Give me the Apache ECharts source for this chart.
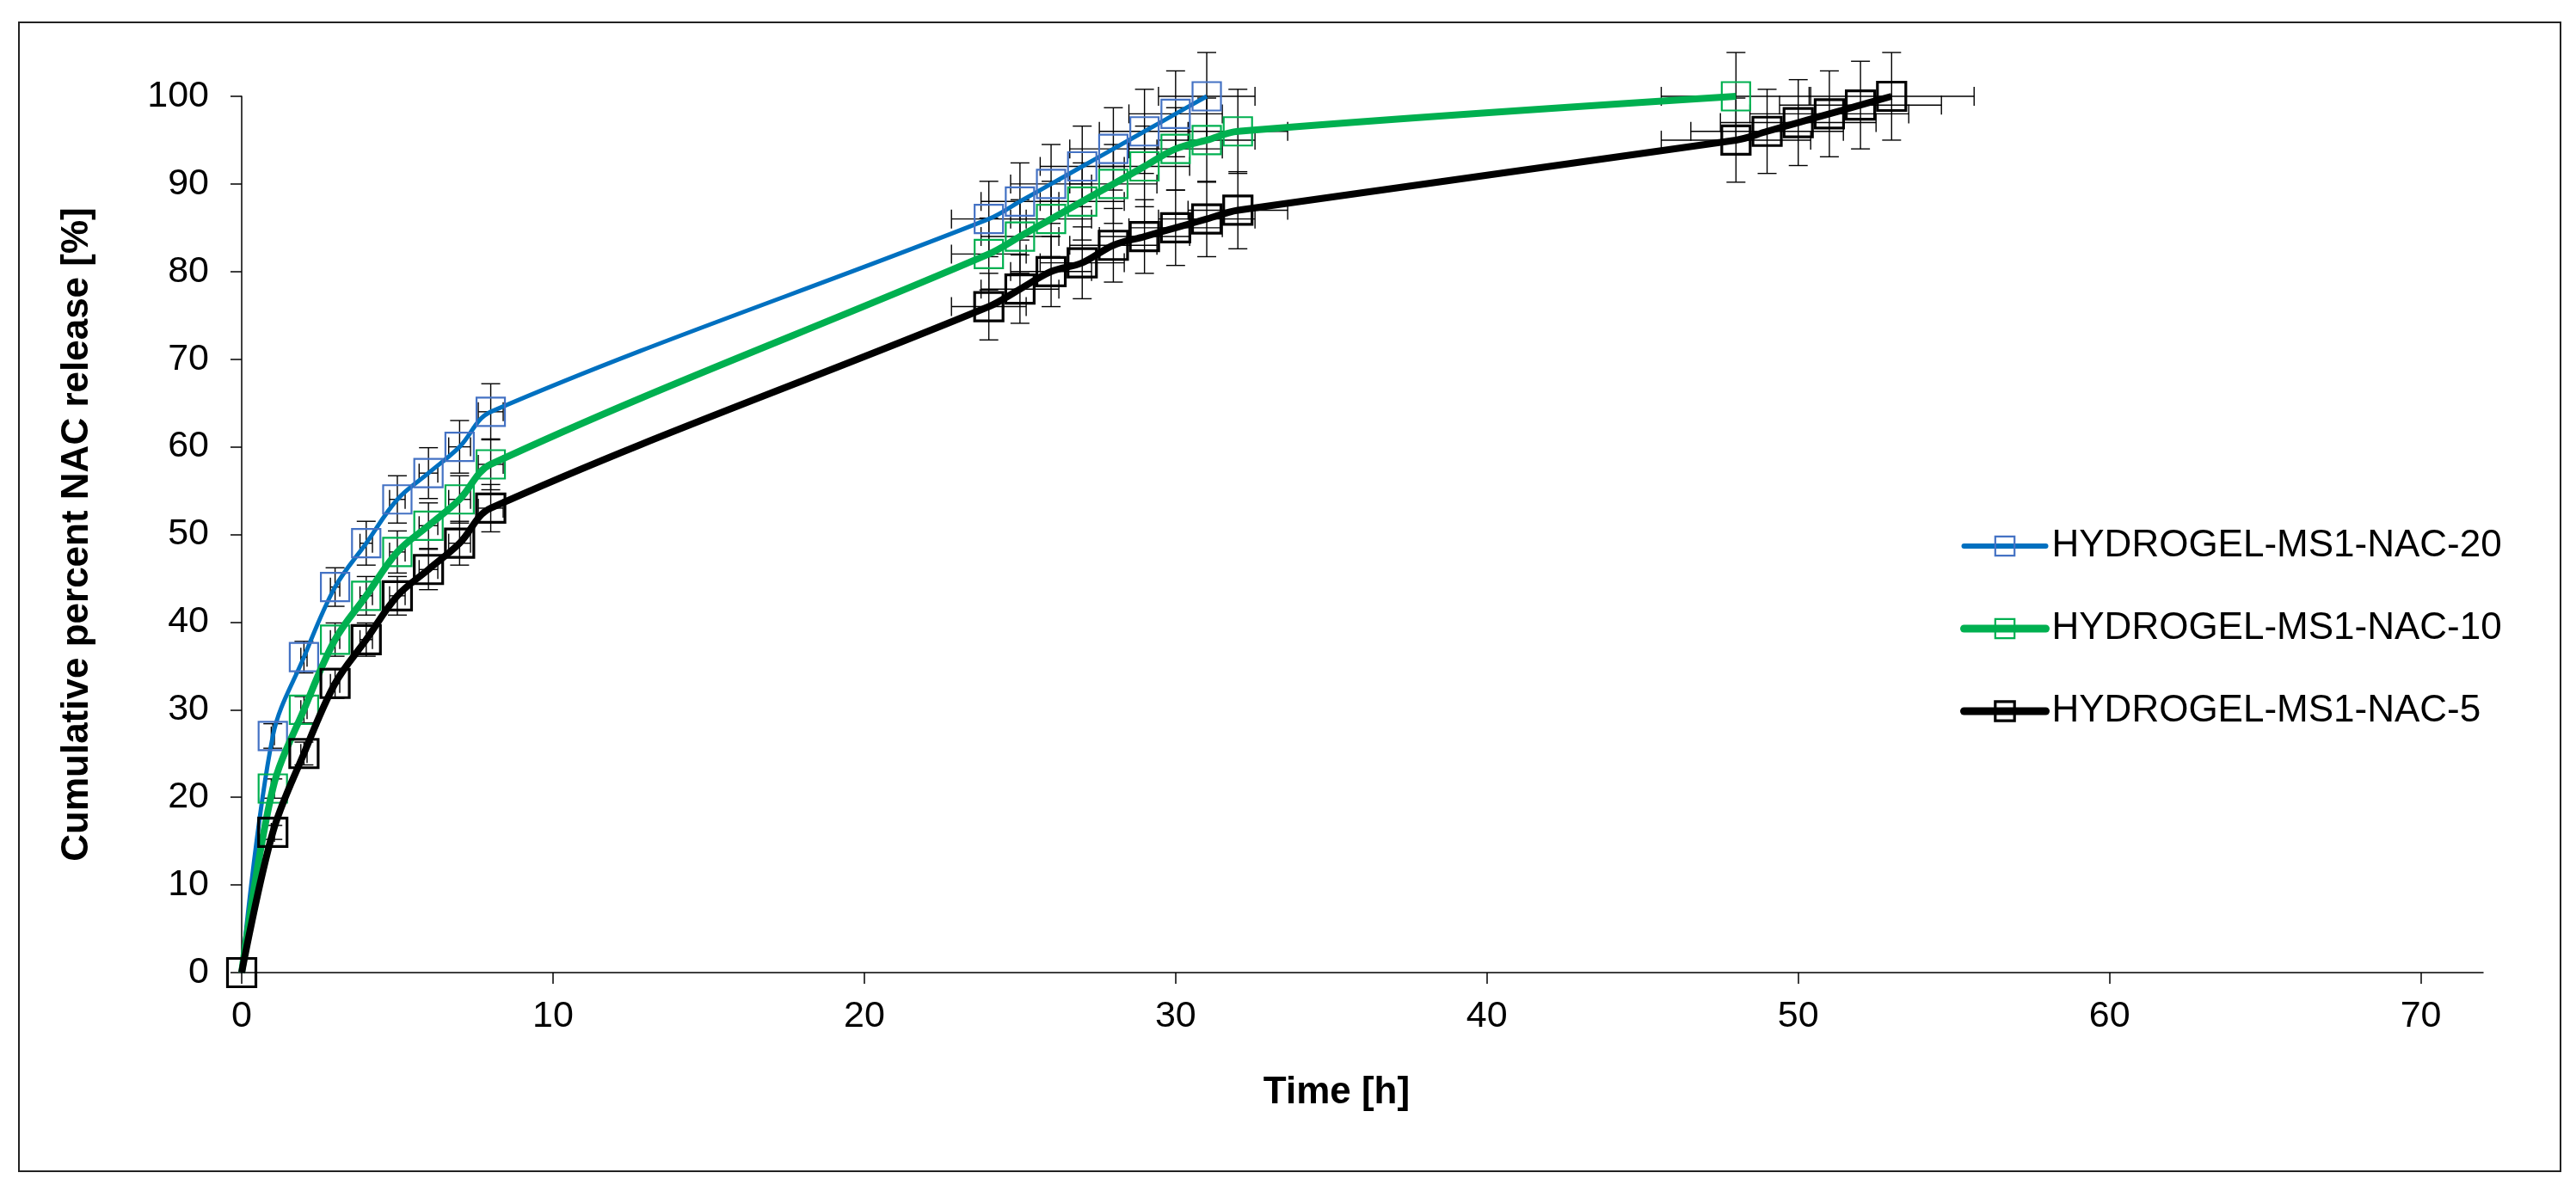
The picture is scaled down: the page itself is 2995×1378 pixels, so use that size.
<!DOCTYPE html>
<html>
<head>
<meta charset="utf-8">
<script src="https://cdn.jsdelivr.net/npm/echarts@6/dist/echarts.min.js"></script>
<style>
html,body{margin:0;padding:0;background:#fff;}
#c{width:2995px;height:1378px;}
</style>
</head>
<body>
<div id="c"></div>
<script>
// ---- data ----
const seriesNames = ['HYDROGEL-MS1-NAC-20', 'HYDROGEL-MS1-NAC-10', 'HYDROGEL-MS1-NAC-5'];

const time20 = [0, 1, 2, 3, 4, 5, 6, 7, 8, 24, 25, 26, 27, 28, 29, 30, 31];
const rel20  = [0, 27, 36, 44, 49, 54, 57, 60, 64, 86, 88, 90, 92, 94, 96, 98, 100];
const err20  = [0, 1.4, 1.8, 2.2, 2.5, 2.7, 2.9, 3.0, 3.2, 4.3, 4.4, 4.5, 4.6, 4.7, 4.8, 4.9, 5.0];
const terr20 = [0, 0.05, 0.1, 0.15, 0.2, 0.25, 0.3, 0.35, 0.4, 1.2, 1.25, 1.3, 1.35, 1.4, 1.45, 1.5, 1.55];

const time10 = [0, 1, 2, 3, 4, 5, 6, 7, 8, 24, 25, 26, 27, 28, 29, 30, 31, 32, 48];
const rel10  = [0, 21, 30, 38, 43, 48, 51, 54, 58, 82, 84, 86, 88, 90, 92, 94, 95, 96, 100];
const err10  = [0, 1.1, 1.5, 1.9, 2.2, 2.4, 2.6, 2.7, 2.9, 4.1, 4.2, 4.3, 4.4, 4.5, 4.6, 4.7, 4.8, 4.8, 5.0];
const terr10 = [0, 0.05, 0.1, 0.15, 0.2, 0.25, 0.3, 0.35, 0.4, 1.2, 1.25, 1.3, 1.35, 1.4, 1.45, 1.5, 1.55, 1.6, 2.4];

const time5 = [0, 1, 2, 3, 4, 5, 6, 7, 8, 24, 25, 26, 27, 28, 29, 30, 31, 32, 48, 49, 50, 51, 52, 53];
const rel5  = [0, 16, 25, 33, 38, 43, 46, 49, 53, 76, 78, 80, 81, 83, 84, 85, 86, 87, 95, 96, 97, 98, 99, 100];
const err5  = [0, 0.8, 1.3, 1.7, 1.9, 2.2, 2.3, 2.5, 2.7, 3.8, 3.9, 4.0, 4.1, 4.2, 4.2, 4.3, 4.3, 4.4, 4.8, 4.8, 4.9, 4.9, 5.0, 5.0];
const terr5 = [0, 0.05, 0.1, 0.15, 0.2, 0.25, 0.3, 0.35, 0.4, 1.2, 1.25, 1.3, 1.35, 1.4, 1.45, 1.5, 1.55, 1.6, 2.4, 2.45, 2.5, 2.55, 2.6, 2.65];

const xTicks = [0, 10, 20, 30, 40, 50, 60, 70];

// ---- build ----
const FONT = "'Liberation Sans', Arial, sans-serif";
const lineCols = ['#0070C0', '#00B050', '#000000'];
const markCols = ['#4472C4', '#00B050', '#000000'];
const lineW = [5, 8, 8];
const markW = [2.2, 2.2, 3.2];

const sets = [
  [time20, rel20, err20, terr20],
  [time10, rel10, err10, terr10],
  [time5, rel5, err5, terr5]
];

function pairs(t, v) { return t.map((x, i) => [x, v[i]]); }
function errData(t, v, e, te) { return t.map((x, i) => [x, v[i], te[i], e[i]]); }

const CAP = 11;
function errRender(params, api) {
  const x = api.value(0), y = api.value(1), ex = api.value(2), ey = api.value(3);
  const children = [];
  const st = { stroke: '#000', lineWidth: 1.4 };
  if (ey > 0) {
    const top = api.coord([x, y + ey]), bot = api.coord([x, y - ey]);
    children.push({ type: 'line', shape: { x1: top[0], y1: top[1], x2: bot[0], y2: bot[1] }, style: st });
    children.push({ type: 'line', shape: { x1: top[0] - CAP, y1: top[1], x2: top[0] + CAP, y2: top[1] }, style: st });
    children.push({ type: 'line', shape: { x1: bot[0] - CAP, y1: bot[1], x2: bot[0] + CAP, y2: bot[1] }, style: st });
  }
  if (ex > 0) {
    const l = api.coord([x - ex, y]), r = api.coord([x + ex, y]);
    children.push({ type: 'line', shape: { x1: l[0], y1: l[1], x2: r[0], y2: r[1] }, style: st });
    children.push({ type: 'line', shape: { x1: l[0], y1: l[1] - CAP, x2: l[0], y2: l[1] + CAP }, style: st });
    children.push({ type: 'line', shape: { x1: r[0], y1: r[1] - CAP, x2: r[0], y2: r[1] + CAP }, style: st });
  }
  return { type: 'group', children: children };
}

const series = [];
sets.forEach((s, i) => {
  series.push({
    type: 'custom',
    name: seriesNames[i] + ' err',
    renderItem: errRender,
    data: errData(s[0], s[1], s[2], s[3]),
    z: 1,
    silent: true,
    clip: false
  });
});
sets.forEach((s, i) => {
  series.push({
    type: 'line',
    name: seriesNames[i],
    data: pairs(s[0], s[1]),
    smooth: 0.35,
    symbol: 'rect',
    symbolSize: 33,
    showAllSymbol: true,
    lineStyle: { color: lineCols[i], width: lineW[i] },
    itemStyle: { color: 'rgba(0,0,0,0)', borderColor: markCols[i], borderWidth: markW[i] },
    z: 3 + i
  });
});

const legendData = seriesNames.map((n, i) => ({
  name: n,
  lineStyle: { color: lineCols[i], width: lineW[i] + 1, cap: 'round' },
  itemStyle: { color: 'rgba(0,0,0,0)', borderColor: markCols[i], borderWidth: markW[i] }
}));

const chart = echarts.init(document.getElementById('c'), null, { renderer: 'canvas' });
chart.setOption({
  animation: false,
  backgroundColor: '#fff',
  grid: { left: 281, right: 108, top: 112, bottom: 247 },
  xAxis: {
    type: 'value', min: 0, max: 72, interval: 10,
    name: 'Time [h]', nameLocation: 'middle', nameGap: 118,
    nameTextStyle: { fontFamily: FONT, fontSize: 44, fontWeight: 'bold', color: '#000', padding: [0, 60, 0, 0] },
    axisLine: { show: true, lineStyle: { color: '#000', width: 1.5 } },
    axisTick: { show: true, length: 13, lineStyle: { color: '#000', width: 1.5 }, customValues: xTicks },
    axisLabel: { fontFamily: FONT, fontSize: 43, color: '#000', margin: 30, customValues: xTicks },
    splitLine: { show: false }
  },
  yAxis: {
    type: 'value', min: 0, max: 100, interval: 10,
    name: 'Cumulative percent NAC release [%]', nameLocation: 'middle', nameGap: 169,
    nameTextStyle: { fontFamily: FONT, fontSize: 44, fontWeight: 'bold', color: '#000' },
    axisLine: { show: true, lineStyle: { color: '#000', width: 1.5 } },
    axisTick: { show: true, length: 13, lineStyle: { color: '#000', width: 1.5 } },
    axisLabel: { fontFamily: FONT, fontSize: 43, color: '#000', margin: 38 },
    splitLine: { show: false }
  },
  legend: {
    data: legendData,
    orient: 'vertical',
    left: 2274, top: 608,
    itemWidth: 95, itemHeight: 28, itemGap: 52,
    textStyle: { fontFamily: FONT, fontSize: 44, color: '#000', padding: [0, 0, 0, 2] }
  },
  graphic: [{
    type: 'rect', silent: true,
    shape: { x: 22, y: 26, width: 2955, height: 1336 },
    style: { fill: 'none', stroke: '#222', lineWidth: 2 }
  }],
  series: series
});
</script>
</body>
</html>
